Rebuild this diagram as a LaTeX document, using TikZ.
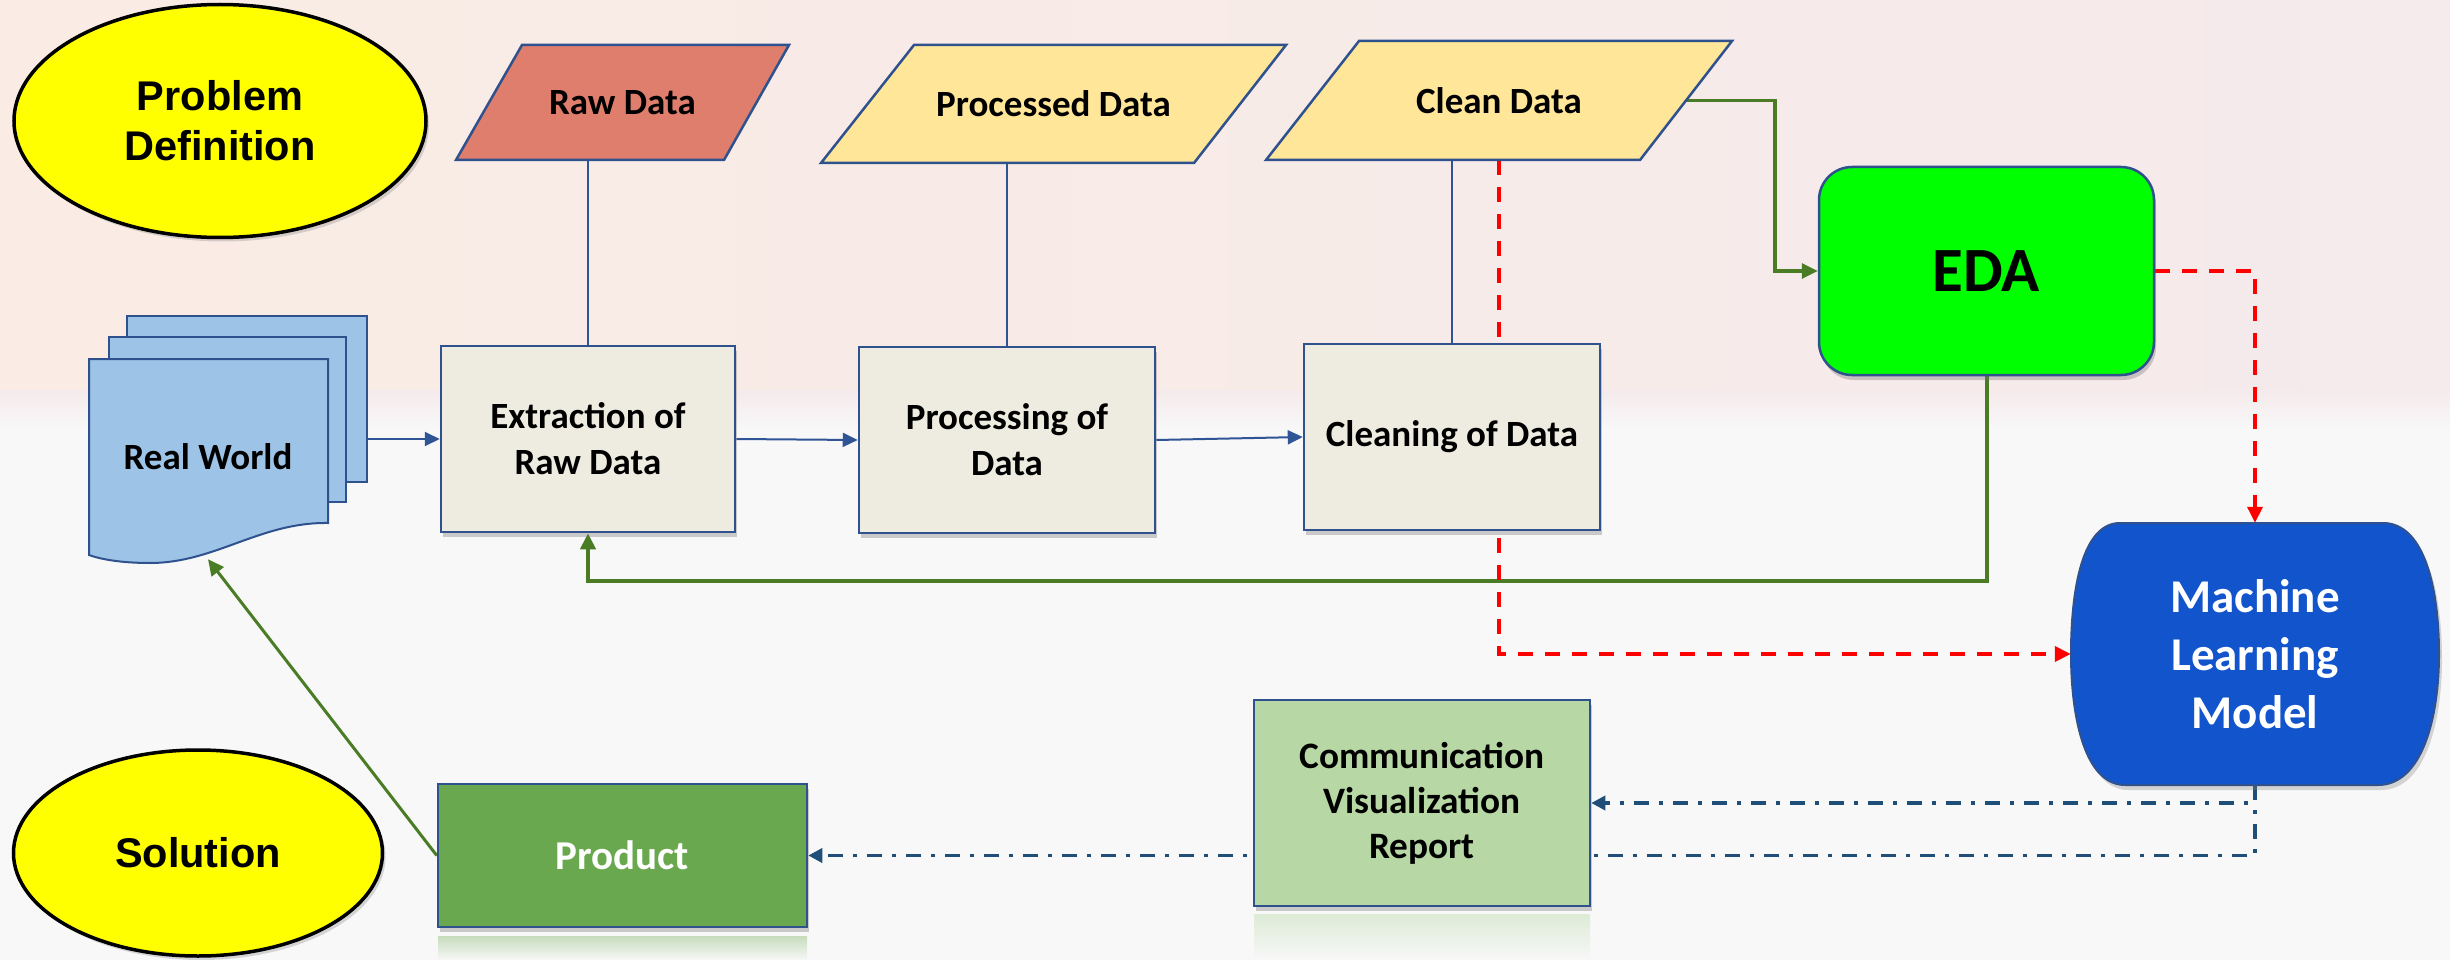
\documentclass[tikz,border=0pt]{standalone}
\usepackage{fontspec}
\setmainfont{Carlito}
\newfontfamily\arialfont{Liberation Sans}
\usetikzlibrary{arrows.meta,calc,shadows,shapes.geometric}
\definecolor{bord}{RGB}{47,82,143}
\definecolor{conn}{RGB}{47,85,151}
\definecolor{procfill}{RGB}{238,236,225}
\definecolor{rawfill}{RGB}{223,126,108}
\definecolor{datafill}{RGB}{255,230,153}
\definecolor{docfill}{RGB}{157,195,230}
\definecolor{edagreen}{RGB}{0,255,0}
\definecolor{mlblue}{RGB}{17,84,204}
\definecolor{comfill}{RGB}{183,215,165}
\definecolor{prodfill}{RGB}{106,168,79}
\definecolor{gline}{RGB}{74,124,38}
\definecolor{dblue}{RGB}{31,78,121}
\definecolor{ryellow}{RGB}{255,255,0}
\definecolor{bgtopl}{RGB}{250,236,228}
\definecolor{bgtopr}{RGB}{245,234,236}
\definecolor{bgbot}{RGB}{248,248,248}
\pgfdeclarelayer{back}
\pgfdeclarelayer{wires}
\pgfsetlayers{back,wires,main}
\begin{document}
\begin{tikzpicture}[x=1pt,y=-1pt,
  txt/.style={font=\bfseries\fontsize{37}{46}\selectfont, align=center, text=black},
  shd/.style={drop shadow={shadow xshift=2pt,shadow yshift=-5pt,opacity=0.35,fill=black!55}},
  procbox/.style={txt, rectangle, draw=bord, line width=2.5pt, fill=procfill, minimum width=294pt, minimum height=186pt, shd},
  oval/.style={ellipse, draw=black, line width=3.5pt, fill=ryellow, align=center, font=\arialfont\bfseries\fontsize{41.5}{50}\selectfont, drop shadow={shadow xshift=3pt,shadow yshift=-4pt,opacity=0.3}},
  holder/.style={rectangle, inner sep=0pt, align=center},
  paraline/.style={draw=bord, line width=2.5pt},
  flowarrow/.style={draw=conn, line width=2pt, -{Triangle[length=15pt,width=14pt]}},
  thinline/.style={draw=conn, line width=1.5pt},
  greenarrow/.style={draw=gline, line width=3.5pt, -{Triangle[length=16pt,width=15pt]}},
  redarrow/.style={draw=red, line width=3.5pt, dash pattern=on 15pt off 12pt, -{Triangle[length=16pt,width=15pt]}},
  dasharrow/.style={draw=dblue, line width=3.5pt, dash pattern=on 15pt off 10pt on 4pt off 10pt, -{Triangle[length=14pt,width=14pt]}}
]
\useasboundingbox (0,0) rectangle (2450,960);
\begin{pgfonlayer}{back}
  \fill[bgbot] (0,0) rectangle (2450,960);
  \shade[left color=bgtopl, right color=bgtopr] (0,0) rectangle (2450,390);
  \shade[top color=bgtopr, bottom color=bgbot] (0,390) rectangle (2450,430);
\end{pgfonlayer}

% ovals
\node[oval, minimum width=412pt, minimum height=233pt] (pd) at (220,121) {Problem\\Definition};
\node[oval, minimum width=369pt, minimum height=206pt] (sol) at (198,853) {Solution};

% Real World stacked documents
\path[fill=docfill, draw=bord, line width=2pt] (127,316) rectangle (367,482);
\path[fill=docfill, draw=bord, line width=2pt] (109,337) rectangle (346,502);
\path[fill=docfill, draw=bord, line width=2pt] (89,359) -- (328,359) -- (328,523)
   .. controls (260,522) and (215,563) .. (150,563)
   .. controls (120,563) and (100,559) .. (89,555) -- cycle;
\node[holder, txt, minimum width=239pt, minimum height=204pt] (rw) at (208,457) {Real World};

% process boxes
\node[procbox] (ext) at (588,439) {Extraction of\\Raw Data};
\node[procbox, minimum width=296pt] (prc) at (1007,440) {Processing of\\Data};
\node[procbox, minimum width=296pt] (cln) at (1452,437) {Cleaning of Data};

% data parallelograms
\path[fill=rawfill, paraline] (456,160) -- (522,45) -- (789,45) -- (724,160) -- cycle;
\node[holder, txt, minimum width=333pt, minimum height=115pt] (rd) at (622.5,102.5) {Raw Data};
\path[fill=datafill, paraline] (821,163) -- (914,45) -- (1286,45) -- (1194,163) -- cycle;
\node[holder, txt, minimum width=465pt, minimum height=118pt] (pdt) at (1053.5,104) {Processed Data};
\path[fill=datafill, paraline] (1266,160) -- (1359,41) -- (1732,41) -- (1640,160) -- cycle;
\node[holder, txt, minimum width=466pt, minimum height=119pt] (cd) at (1499,100.5) {Clean Data};

% EDA
\node[rectangle, rounded corners=33pt, draw=bord, line width=2.5pt, fill=edagreen, minimum width=335pt, minimum height=208pt, font=\bfseries\fontsize{63}{70}\selectfont, shd] (eda) at (1986.5,271) {EDA};

% Machine Learning Model
\path[fill=mlblue, draw=bord, line width=2pt, drop shadow={shadow xshift=3pt,shadow yshift=-5pt,opacity=0.3}]
   (2120,523) -- (2383,523) .. controls (2425,523) and (2439,590) .. (2439,654)
   .. controls (2439,718) and (2422,785) .. (2378,785) -- (2125,785)
   .. controls (2085,785) and (2071,718) .. (2071,654)
   .. controls (2071,590) and (2082,523) .. (2120,523) -- cycle;
\node[holder, minimum width=368pt, minimum height=262pt, font=\bfseries\fontsize{47}{58}\selectfont, text=white] (ml) at (2255,654) {Machine\\Learning\\Model};

% reflections
\shade[top color=comfill!70, bottom color=bgbot, opacity=0.6] (1254,914) rectangle (1590,960);
\shade[top color=prodfill!60, bottom color=bgbot, opacity=0.6] (438,936) rectangle (807,960);

% Communication and Product
\node[rectangle, draw=bord, line width=2.5pt, fill=comfill, minimum width=336pt, minimum height=206pt, align=center, font=\bfseries\fontsize{37.3}{45}\selectfont, shd] (com) at (1422,803) {Communication\\Visualization\\Report};
\node[rectangle, draw=bord, line width=2.5pt, fill=prodfill, minimum width=369pt, minimum height=143pt, font=\bfseries\fontsize{41}{46}\selectfont, text=white, shd] (prod) at (622.5,855.5) {Product};

% helper coordinates
\coordinate (gs) at ($(cd.east)+(-46,0)$);
\coordinate (xt) at (1775,0);
\coordinate (gy) at (0,581);

\begin{pgfonlayer}{wires}
  \draw[flowarrow] (rw.east |- ext.west) -- (ext.west);
  \draw[flowarrow] (ext.east) -- (prc.west);
  \draw[flowarrow] (prc.east) -- (cln.west);
  \draw[thinline] (rd.south -| ext.north) -- (ext.north);
  \draw[thinline] (pdt.south -| prc.north) -- (prc.north);
  \draw[thinline] (cd.south -| cln.north) -- (cln.north);
  \draw[greenarrow, line width=3.3pt] (gs) -- (gs -| xt) -- (xt |- eda.west) -- (eda.west);
  \draw[greenarrow, line width=4pt] (eda.south) -- (eda.south |- gy) -- (ext.south |- gy) -- (ext.south);
  \draw[redarrow] (cd.south) -- (cd.south |- ml.west) -- (ml.west);
  \draw[redarrow] (eda.east) -| (ml.north);
  \draw[dasharrow] (ml.south) |- (com.east);
  \draw[dasharrow] (ml.south) |- (prod.east);
  \draw[greenarrow, line width=3pt] (prod.west) -- (rw.south);
\end{pgfonlayer}
\end{tikzpicture}
\end{document}
